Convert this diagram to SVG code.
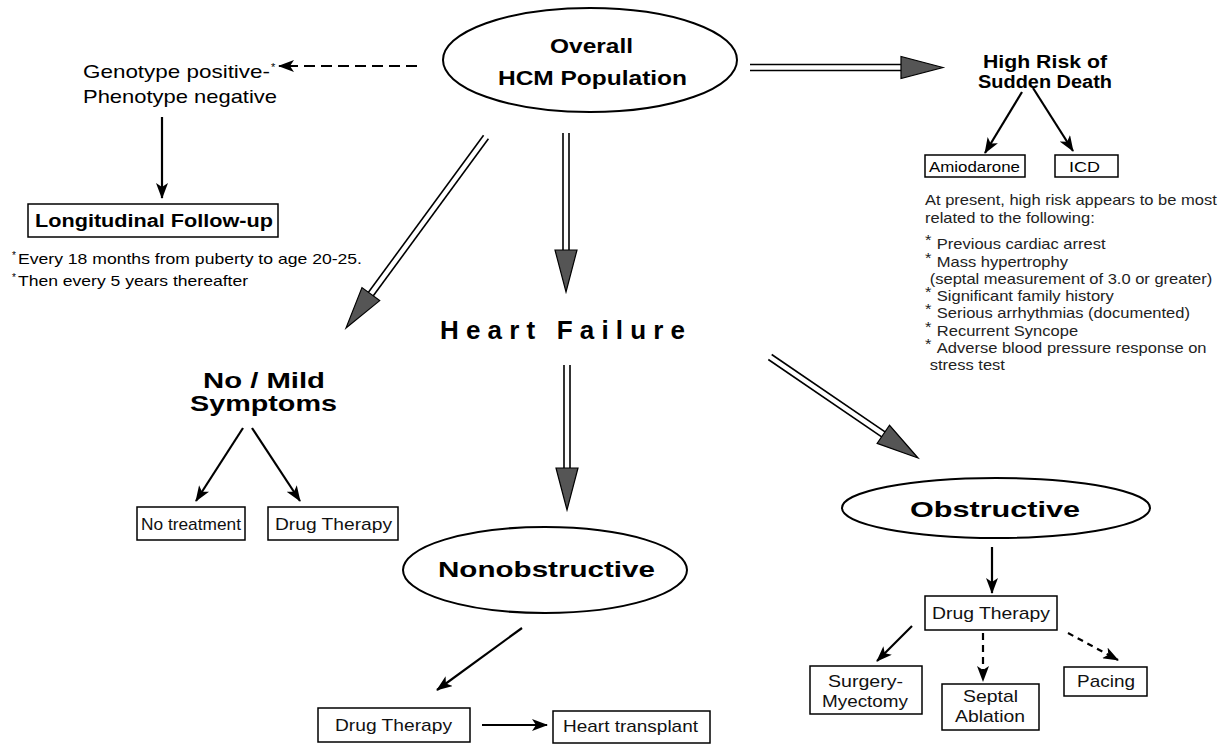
<svg xmlns="http://www.w3.org/2000/svg" xmlns:xlink="http://www.w3.org/1999/xlink" width="1224" height="744" viewBox="0 0 1224 744">
<defs>
<style>
text{font-family:"Liberation Sans",Arial,Helvetica,sans-serif;fill:#000}
.b{font-weight:bold}
.box{fill:#fff;stroke:#000;stroke-width:1.5}
.ell{fill:#fff;stroke:#000;stroke-width:2}
.ln{stroke:#000;stroke-width:2.2;fill:none}
.dl{stroke:#000;stroke-width:1.6}
.dh{fill:#555;stroke:#000;stroke-width:1.2}
.sm{font-size:14px;fill:#222}
.bt{font-size:17px;fill:#111}
</style>
<marker id="ah" markerUnits="userSpaceOnUse" markerWidth="16" markerHeight="12" refX="15" refY="6" orient="auto"><path d="M0,0 L16,6 L0,12 L4,6 Z" fill="#000"/></marker>
<path id="dhead" d="M0,0 L-42,-11 L-42,11 Z"/>
</defs>
<rect width="1224" height="744" fill="#fff"/>

<g id="connectors">
  <g transform="translate(486,137) rotate(126.24)"><line class="dl" x1="0" y1="-3" x2="200" y2="-3"/><line class="dl" x1="0" y1="3" x2="200" y2="3"/><use xlink:href="#dhead" x="236.8" class="dh"/></g>
  <g transform="translate(566,133) rotate(90)"><line class="dl" x1="0" y1="-3" x2="125" y2="-3"/><line class="dl" x1="0" y1="3" x2="125" y2="3"/><use xlink:href="#dhead" x="159" class="dh"/></g>
  <g transform="translate(750,67.5)"><line class="dl" x1="0" y1="-3" x2="158" y2="-3"/><line class="dl" x1="0" y1="3" x2="158" y2="3"/><use xlink:href="#dhead" x="193" class="dh"/></g>
  <g transform="translate(567,365) rotate(90)"><line class="dl" x1="0" y1="-3" x2="110" y2="-3"/><line class="dl" x1="0" y1="3" x2="110" y2="3"/><use xlink:href="#dhead" x="145" class="dh"/></g>
  <g transform="translate(770,357) rotate(34.31)"><line class="dl" x1="0" y1="-3" x2="143" y2="-3"/><line class="dl" x1="0" y1="3" x2="143" y2="3"/><use xlink:href="#dhead" x="179.2" class="dh"/></g>
  <line class="ln" x1="417" y1="66" x2="279" y2="66" stroke-width="3.5" stroke-dasharray="11 6" marker-end="url(#ah)"/>
  <line class="ln" x1="162" y1="117" x2="162" y2="198" stroke-width="3" marker-end="url(#ah)"/>
  <line class="ln" x1="1022" y1="92" x2="985" y2="153" marker-end="url(#ah)"/>
  <line class="ln" x1="1033" y1="88" x2="1073" y2="151" marker-end="url(#ah)"/>
  <line class="ln" x1="243" y1="428" x2="196" y2="501" marker-end="url(#ah)"/>
  <line class="ln" x1="252" y1="428" x2="300" y2="501" marker-end="url(#ah)"/>
  <line class="ln" x1="522" y1="628" x2="437" y2="690" marker-end="url(#ah)"/>
  <line class="ln" x1="482" y1="725" x2="547" y2="725" marker-end="url(#ah)"/>
  <line class="ln" x1="992" y1="547" x2="992" y2="593" marker-end="url(#ah)"/>
  <line class="ln" x1="912" y1="626" x2="877" y2="661" marker-end="url(#ah)"/>
  <line class="ln" x1="983" y1="633" x2="983" y2="681" stroke-dasharray="7 5" marker-end="url(#ah)"/>
  <line class="ln" x1="1068" y1="633" x2="1118" y2="660" stroke-dasharray="6 5" marker-end="url(#ah)"/>
</g>

<g id="overall">
  <ellipse class="ell" cx="590" cy="60" rx="147" ry="52"/>
  <text class="b" x="550" y="53" font-size="21" textLength="83" lengthAdjust="spacingAndGlyphs">Overall</text>
  <text class="b" x="498" y="85" font-size="21" textLength="189" lengthAdjust="spacingAndGlyphs">HCM Population</text>
</g>

<g id="genotype">
  <text x="83" y="78" font-size="19" textLength="187" lengthAdjust="spacingAndGlyphs">Genotype positive-</text>
  <text x="271" y="71" font-size="11">*</text>
  <text x="83" y="103" font-size="19" textLength="194" lengthAdjust="spacingAndGlyphs">Phenotype negative</text>
</g>

<g id="followup">
  <rect class="box" x="28" y="204" width="250" height="33"/>
  <text class="b" x="35" y="227" font-size="18" textLength="238" lengthAdjust="spacingAndGlyphs">Longitudinal Follow-up</text>
</g>

<g id="followup-notes" fill="#222">
  <text x="12" y="259" font-size="10">*</text>
  <text x="18" y="264" font-size="15" fill="#222" textLength="344" lengthAdjust="spacingAndGlyphs">Every 18 months from puberty to age 20-25.</text>
  <text x="12" y="281" font-size="10">*</text>
  <text x="18" y="286" font-size="15" fill="#222" textLength="230" lengthAdjust="spacingAndGlyphs">Then every 5 years thereafter</text>
</g>

<g id="highrisk">
  <text class="b" x="983" y="68" font-size="18" textLength="124" lengthAdjust="spacingAndGlyphs">High Risk of</text>
  <text class="b" x="978" y="88" font-size="18" textLength="134" lengthAdjust="spacingAndGlyphs">Sudden Death</text>
</g>

<g id="amiodarone">
  <rect class="box" x="925" y="155" width="100" height="22"/>
  <text x="929" y="172" font-size="15" fill="#222" textLength="91" lengthAdjust="spacingAndGlyphs">Amiodarone</text>
</g>

<g id="icd">
  <rect class="box" x="1055" y="155" width="63" height="22"/>
  <text x="1069" y="172" font-size="15" fill="#222" textLength="31" lengthAdjust="spacingAndGlyphs">ICD</text>
</g>

<g id="risk-factors" transform="translate(925,0) scale(1.18,1)">
  <text class="sm" x="0" y="205">At present, high risk appears to be most</text>
  <text class="sm" x="0" y="223">related to the following:</text>
  <text class="sm" x="0" y="245" font-size="10">*</text><text class="sm" x="10" y="249">Previous cardiac arrest</text>
  <text class="sm" x="0" y="263" font-size="10">*</text><text class="sm" x="10" y="267">Mass hypertrophy</text>
  <text class="sm" x="4" y="284">(septal measurement of 3.0 or greater)</text>
  <text class="sm" x="0" y="297" font-size="10">*</text><text class="sm" x="10" y="301">Significant family history</text>
  <text class="sm" x="0" y="314" font-size="10">*</text><text class="sm" x="10" y="318">Serious arrhythmias  (documented)</text>
  <text class="sm" x="0" y="332" font-size="10">*</text><text class="sm" x="10" y="336">Recurrent Syncope</text>
  <text class="sm" x="0" y="349" font-size="10">*</text><text class="sm" x="10" y="353">Adverse blood pressure response on</text>
  <text class="sm" x="4" y="370">stress test</text>
</g>

<g id="heartfailure">
  <text class="b" x="440" y="339" font-size="26" textLength="245" lengthAdjust="spacing">Heart Failure</text>
</g>

<g id="mild">
  <text class="b" x="203" y="388" font-size="22" textLength="122" lengthAdjust="spacingAndGlyphs">No / Mild</text>
  <text class="b" x="190" y="411" font-size="22" textLength="147" lengthAdjust="spacingAndGlyphs">Symptoms</text>
</g>

<g id="notreatment">
  <rect class="box" x="137" y="507" width="108" height="33"/>
  <text class="bt" x="141" y="530" textLength="100" lengthAdjust="spacingAndGlyphs">No treatment</text>
</g>

<g id="drug-mild">
  <rect class="box" x="268" y="507" width="130" height="33"/>
  <text class="bt" x="275" y="530" textLength="117" lengthAdjust="spacingAndGlyphs">Drug Therapy</text>
</g>

<g id="nonobstructive">
  <ellipse class="ell" cx="545" cy="570" rx="142" ry="43"/>
  <text class="b" x="438" y="577" font-size="22" textLength="217" lengthAdjust="spacingAndGlyphs">Nonobstructive</text>
</g>

<g id="drug-nonobs">
  <rect class="box" x="318" y="708" width="152" height="34"/>
  <text class="bt" x="335" y="731" textLength="117" lengthAdjust="spacingAndGlyphs">Drug Therapy</text>
</g>

<g id="transplant">
  <rect class="box" x="553" y="711" width="157" height="32"/>
  <text class="bt" x="563" y="732" textLength="135" lengthAdjust="spacingAndGlyphs">Heart transplant</text>
</g>

<g id="obstructive">
  <ellipse class="ell" cx="996" cy="508" rx="154" ry="30"/>
  <text class="b" x="910" y="517" font-size="22" textLength="170" lengthAdjust="spacingAndGlyphs">Obstructive</text>
</g>

<g id="drug-obs">
  <rect class="box" x="925" y="596" width="132" height="34"/>
  <text class="bt" x="932" y="619" textLength="118" lengthAdjust="spacingAndGlyphs">Drug Therapy</text>
</g>

<g id="surgery">
  <rect class="box" x="810" y="666" width="112" height="48"/>
  <text class="bt" x="828" y="687" textLength="75" lengthAdjust="spacingAndGlyphs">Surgery-</text>
  <text class="bt" x="822" y="707" textLength="86" lengthAdjust="spacingAndGlyphs">Myectomy</text>
</g>

<g id="septal">
  <rect class="box" x="942" y="684" width="97" height="46"/>
  <text class="bt" x="963" y="702" textLength="55" lengthAdjust="spacingAndGlyphs">Septal</text>
  <text class="bt" x="955" y="722" textLength="70" lengthAdjust="spacingAndGlyphs">Ablation</text>
</g>

<g id="pacing">
  <rect class="box" x="1064" y="667" width="83" height="29"/>
  <text class="bt" x="1077" y="687" textLength="58" lengthAdjust="spacingAndGlyphs">Pacing</text>
</g>
</svg>
